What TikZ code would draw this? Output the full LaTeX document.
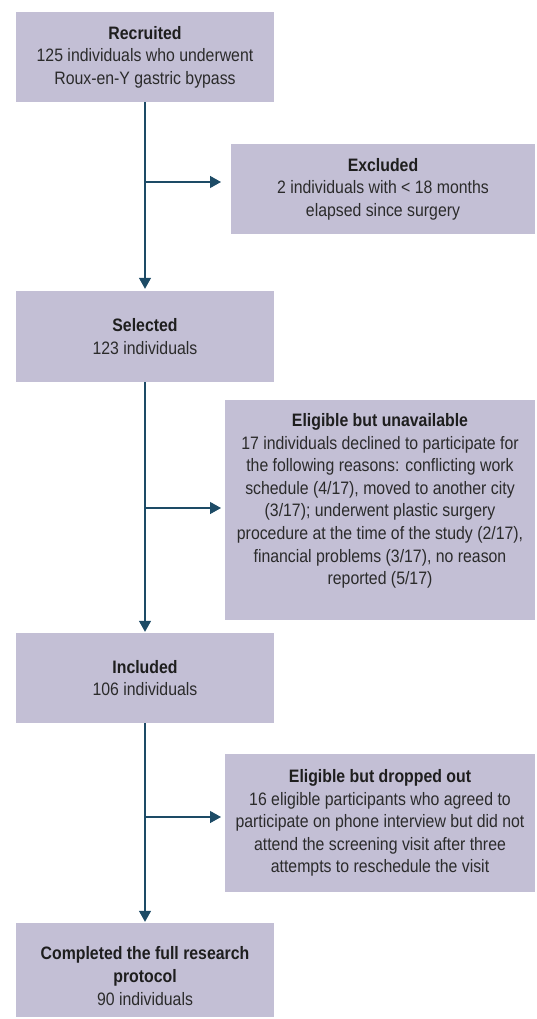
\documentclass[tikz,border=0pt]{standalone}
\usepackage{fontspec}
\setmainfont{Liberation Sans}[FakeStretch=0.88]
\usetikzlibrary{arrows.meta}
\definecolor{boxfill}{HTML}{C3BFD5}
\definecolor{flowline}{HTML}{1D4B66}
\definecolor{boxtext}{HTML}{2B2B2B}
\definecolor{titletext}{HTML}{1E1E1E}

\begin{document}
\begin{tikzpicture}[x=1pt,y=-1pt,
  stage/.style={fill=boxfill, draw=none, inner sep=0pt, align=center,
    text=boxtext, font=\fontsize{18}{22.6}\selectfont},
  mainbox/.style={stage, minimum width=258pt, minimum height=90pt},
  sidebox/.style={stage, minimum width=310pt},
  boxtextonly/.style={inner sep=0pt, align=center, text=boxtext,
    font=\fontsize{18}{22.6}\selectfont},
  flow/.style={draw=flowline, line width=1.3pt,
    -{Triangle[length=11pt,width=12pt]}},
]
\useasboundingbox (0,0) rectangle (536,1019);

% main column
\node[mainbox] (recruited) at (145,57)
  {\textcolor{titletext}{\textbf{Recruited}}\\125 individuals who underwent\\Roux-en-Y gastric bypass};
\node[mainbox, minimum height=91pt] (selected) at (145,336.5)
  {\textcolor{titletext}{\textbf{Selected}}\\123 individuals};
\node[mainbox] (included) at (145,678)
  {\textcolor{titletext}{\textbf{Included}}\\106 individuals};
\node[mainbox, minimum height=94pt] (completed) at (145,970)
  {};
\node[boxtextonly] (completedtext) at (145,976)
  {\textcolor{titletext}{\textbf{Completed the full research}}\\\textcolor{titletext}{\textbf{protocol}}\\90 individuals};

% side boxes
\node[stage, minimum width=304pt, minimum height=90pt] (excluded) at (383,189)
  {\textcolor{titletext}{\textbf{Excluded}}\\2 individuals with < 18 months\\elapsed since surgery};
\node[sidebox, minimum height=220pt] (unavail) at (380,510) {};
\node[boxtextonly] (unavailtext) at (380,501)
  {\textcolor{titletext}{\textbf{Eligible but unavailable}}\\
   17 individuals declined to participate for\\
   the following reasons: conflicting work\\
   schedule (4/17), moved to another city\\
   (3/17); underwent plastic surgery\\
   procedure at the time of the study (2/17),\\
   financial problems (3/17), no reason\\
   reported (5/17)};
\node[sidebox, minimum height=138pt] (dropped) at (380,823)
  {\textcolor{titletext}{\textbf{Eligible but dropped out}}\\
   16 eligible participants who agreed to\\
   participate on phone interview but did not\\
   attend the screening visit after three\\
   attempts to reschedule the visit};

% arrow ends beside the side boxes
\coordinate (toexcluded) at (221,182);
\coordinate (tounavail) at (221,508);
\coordinate (todropped) at (221,817);

% connectors
\draw[flow, shorten >=2pt] (recruited.south) -- (selected.north);
\draw[flow, shorten >=1pt] (selected.south) -- (included.north);
\draw[flow, shorten >=1pt] (included.south) -- (completed.north);
\draw[flow] (recruited.south |- toexcluded) -- (toexcluded);
\draw[flow] (selected.south |- tounavail) -- (tounavail);
\draw[flow] (included.south |- todropped) -- (todropped);
\end{tikzpicture}
\end{document}
